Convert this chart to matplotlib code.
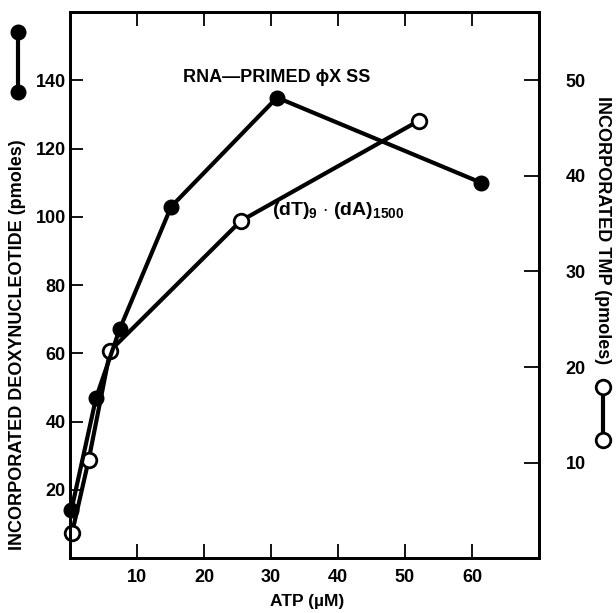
import matplotlib
matplotlib.use("Agg")
import matplotlib.pyplot as plt
from matplotlib.lines import Line2D

plt.rcParams['font.family'] = ['Liberation Sans', 'DejaVu Sans']
plt.rcParams['font.weight'] = 'bold'
plt.rcParams['mathtext.fontset'] = 'custom'
plt.rcParams['mathtext.rm'] = 'Liberation Sans:bold'
plt.rcParams['mathtext.bf'] = 'Liberation Sans:bold'
plt.rcParams['mathtext.default'] = 'bf'

# RNA-primed phiX SS (filled, left axis)
atp_rna = [0.2, 3.9, 7.4, 15.1, 30.9, 61.4]
dna_rna = [14, 47, 67, 103, 135, 110]

# (dT)9.(dA)1500 (open, right axis)
atp_dt = [0.3, 2.8, 6.0, 25.5, 52.1]
tmp_dt = [2.6, 10.3, 21.7, 35.3, 45.8]

xticks = [10, 20, 30, 40, 50, 60]
lticks = [20, 40, 60, 80, 100, 120, 140]
rticks = [10, 20, 30, 40, 50]

fig = plt.figure(figsize=(6.16, 6.13), dpi=100)
ax = fig.add_axes([0.1136, 0.0897, 0.875 - 0.1136, 0.980 - 0.0897])
ax2 = ax.twinx()

ax.set_xlim(0, 70)
ax.set_ylim(0, 160)
ax2.set_ylim(0, 160 / 2.8)

# open series on right axis, drawn under the filled one
ax2.plot(atp_dt, tmp_dt, color='black', lw=3.0, marker='o', ms=10.5,
         mfc='white', mec='black', mew=2.0, zorder=2, clip_on=False)
ax.set_zorder(ax2.get_zorder() + 1)
ax.patch.set_visible(False)
ax.plot(atp_rna, dna_rna, color='black', lw=3.0, marker='o', ms=10.5,
        mfc='black', mec='black', zorder=3, clip_on=False)

for a in (ax, ax2):
    for s in a.spines.values():
        s.set_linewidth(2.0)

ax.set_xticks(xticks)
ax.set_xticklabels([str(t) for t in xticks], fontsize=13, fontweight='bold')
ax.set_yticks(lticks)
ax.set_yticklabels([str(t) for t in lticks], fontsize=13, fontweight='bold')
ax.tick_params(axis='x', direction='in', length=10, width=1.3, pad=8, top=True)
ax.tick_params(axis='y', direction='in', length=9, width=1.3, pad=3)
ax2.set_yticks(rticks)
ax2.set_yticklabels([str(t) for t in rticks], fontsize=13, fontweight='bold')
ax2.tick_params(axis='y', direction='in', length=11, width=1.3, pad=19)

ax.set_xlabel('ATP (\u00b5M)', fontsize=12.5, fontweight='bold')
ax.xaxis.label.set_va('center')
ax.xaxis.set_label_coords(0.506, -0.080)

ax.text(30.8, 141, 'RNA\u2014PRIMED \u03d5X SS', fontsize=13, fontweight='bold',
        ha='center', va='center')
ax.text(30.2, 102, r'(dT)$_9$ $\cdot$ (dA)$_{1500}$', fontsize=14,
        fontweight='bold', ha='left', va='center')

# axis titles with their symbol keys
fig.text(18 / 616, 1 - 345 / 613, 'INCORPORATED DEOXYNUCLEOTIDE (pmoles)',
         rotation=90, fontsize=13, fontweight='bold', ha='center', va='center')
fig.text(603 / 616, 1 - 230 / 613, 'INCORPORATED TMP (pmoles)',
         rotation=-90, fontsize=13, fontweight='bold', ha='center', va='center')

kx = 18 / 616
fig.add_artist(Line2D([kx, kx], [1 - 32 / 613, 1 - 92 / 613], color='black', lw=3.0))
fig.add_artist(Line2D([kx, kx], [1 - 32 / 613, 1 - 92 / 613], ls='none', marker='o',
                      ms=10.5, mfc='black', mec='black'))
kx = 603 / 616
fig.add_artist(Line2D([kx, kx], [1 - 387 / 613, 1 - 440 / 613], color='black', lw=3.0))
fig.add_artist(Line2D([kx, kx], [1 - 387 / 613, 1 - 440 / 613], ls='none', marker='o',
                      ms=10.5, mfc='white', mec='black', mew=2.0))

fig.savefig('out.png', dpi=100)
